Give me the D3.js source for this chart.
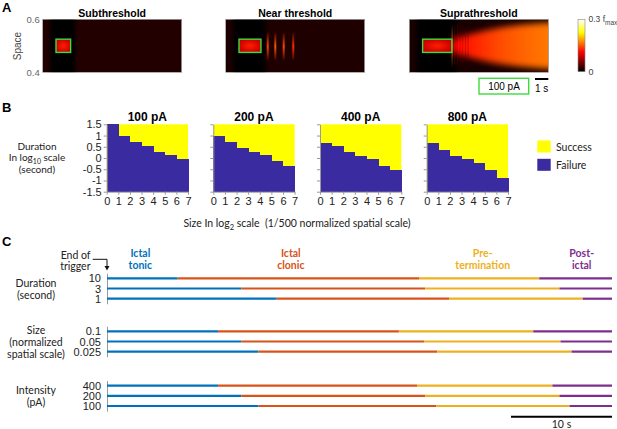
<!DOCTYPE html>
<html>
<head>
<meta charset="utf-8">
<script src="https://cdn.jsdelivr.net/npm/d3@7"></script>
<style>
  body { margin: 0; background: #fff; }
  text { font-family: "Liberation Sans", Arial, sans-serif; }
  .cal { font-family: Lato, "Open Sans", sans-serif; }
</style>
</head>
<body>
<div id="chart"></div>
<script>
// ---- panel A : activity maps ----
const heatTitles = ["Subthreshold", "Near threshold", "Suprathreshold"];
const stimStart = 1.0;                       // s
const stimDur = [1.1, 1.65, 2.2];            // s
const stimSpace = [0.475, 0.525];
const bgLevel = [0.05, 0.045, 0.035];
const nearStripeT = [3.16, 3.73, 4.36, 5.08];
const nearStripeV = [0.47, 0.5, 0.48, 0.44];
const supraStripeT = [3.22, 3.42, 3.62, 3.82, 4.02, 4.22, 4.42];
const supraStripeV = [0.62, 0.4, 0.36, 0.33, 0.3, 0.28, 0.26];
const fanT = [3.2, 3.5, 4, 5, 6, 7, 8, 9, 10.45];
const fanHalf = [0.024, 0.03, 0.037, 0.05, 0.061, 0.07, 0.077, 0.082, 0.088];
const fanV = [0.36, 0.38, 0.4, 0.43, 0.46, 0.49, 0.51, 0.53, 0.55];

// ---- panel B : success / failure ----
const currents = ["100 pA", "200 pA", "400 pA", "800 pA"];
const sizeTicks = [0, 1, 2, 3, 4, 5, 6, 7];
const durTicks = [1.5, 1, 0.5, 0, -0.5, -1, -1.5];
const fail100 = [1.5, 1.0, 0.7, 0.55, 0.25, 0.15, -0.05];
const fail200 = [1.0, 0.7, 0.43, 0.25, 0.12, -0.13, -0.36];
const fail400 = [0.68, 0.55, 0.25, 0.07, -0.06, -0.36, -0.54];
const fail800 = [0.68, 0.37, 0.07, -0.06, -0.24, -0.54, -0.88];
const failAll = [fail100, fail200, fail400, fail800];

// ---- panel C : seizure phases ----
const phases = [["Ictal", "tonic"], ["Ictal", "clonic"], ["Pre-", "termination"], ["Post-", "ictal"]];
const phaseColors = ["#0072BD", "#D95319", "#EDB120", "#7E2F8E"];
const phaseLabelT = [3.3, 18.2, 37.2, 47.0];
const totalT = 50;
const durLabels = ["10", "3", "1"];
const durBounds = [[7.0, 30.9, 42.8], [13.3, 31.5, 44.8], [16.8, 33.9, 47.1]];
const sizeLabels = ["0.1", "0.05", "0.025"];
const sizeBounds = [[11.0, 28.9, 42.2], [13.3, 31.4, 44.9], [15.0, 32.7, 46.0]];
const intLabels = ["400", "200", "100"];
const intBounds = [[11.0, 30.7, 44.1], [13.3, 31.5, 44.8], [15.0, 32.6, 45.8]];

const W = 617, H = 429;
const svg = d3.select("#chart").append("svg").attr("width", W).attr("height", H);
const defs = svg.append("defs");

const hot = d3.scaleLinear()
  .domain([0, 0.375, 0.75, 1])
  .range(["#000000", "#ff0000", "#ffff00", "#ffffff"])
  .clamp(true);

function blur(id, sd) {
  defs.append("filter").attr("id", id)
      .attr("x", "-50%").attr("y", "-50%").attr("width", "200%").attr("height", "200%")
    .append("feGaussianBlur").attr("stdDeviation", sd);
}
blur("b2", 2.2);
blur("b3", 3);
blur("b05", 0.5);

function panelLetter(t, x, y) {
  svg.append("text").attr("x", x).attr("y", y).text(t)
    .attr("font-weight", "bold").attr("font-size", 13);
}
panelLetter("A", 2, 12);
panelLetter("B", 2, 112);
panelLetter("C", 2, 246);

// ================= A =================
const heatLeft = [42.7, 225.7, 409.3];
const heatW = 139, heatTop = 19.3, heatBot = 72.3;
const hx = d3.scaleLinear().domain([0, 10.45]).range([0, heatW]);
const hy = d3.scaleLinear().domain([0.4, 0.6]).range([heatBot, heatTop]);

// stim gradient
const rg = defs.append("radialGradient").attr("id", "stimGrad");
rg.append("stop").attr("offset", "0%").attr("stop-color", hot(0.42));
rg.append("stop").attr("offset", "100%").attr("stop-color", hot(0.3));

heatTitles.forEach((title, i) => {
  const g = svg.append("g").attr("transform", `translate(${heatLeft[i]},0)`);
  const clipId = "clip" + i;
  defs.append("clipPath").attr("id", clipId)
    .append("rect").attr("x", 0).attr("y", heatTop).attr("width", heatW).attr("height", heatBot - heatTop);
  const body = g.append("g").attr("clip-path", `url(#${clipId})`);

  body.append("rect").attr("x", 0).attr("y", heatTop).attr("width", heatW).attr("height", heatBot - heatTop)
    .attr("fill", hot(bgLevel[i]));
  // darker column around the stimulus
  body.append("rect")
    .attr("x", hx(stimStart - 0.45)).attr("y", heatTop - 10)
    .attr("width", hx(stimDur[i] + 0.8)).attr("height", heatBot - heatTop + 20)
    .attr("fill", hot(0.004)).attr("filter", "url(#b2)");

  if (i === 1) {
    nearStripeT.forEach((t, k) => {
      const gid = "ns" + k;
      const lg = defs.append("linearGradient").attr("id", gid).attr("x1", 0).attr("x2", 0).attr("y1", 0).attr("y2", 1);
      lg.append("stop").attr("offset", "0%").attr("stop-color", hot(0.08));
      lg.append("stop").attr("offset", "50%").attr("stop-color", hot(nearStripeV[k]));
      lg.append("stop").attr("offset", "100%").attr("stop-color", hot(0.08));
      body.append("rect").attr("x", hx(t) - 1).attr("width", 2)
        .attr("y", hy(0.55)).attr("height", hy(0.445) - hy(0.55))
        .attr("fill", `url(#${gid})`).attr("filter", "url(#b05)");
    });
  }
  if (i === 2) {
    const fg = defs.append("linearGradient").attr("id", "fanGrad")
      .attr("gradientUnits", "userSpaceOnUse")
      .attr("x1", hx(fanT[0])).attr("x2", hx(fanT[fanT.length - 1])).attr("y1", 0).attr("y2", 0);
    const t0 = fanT[0], t1 = fanT[fanT.length - 1];
    fanT.forEach((t, k) => {
      fg.append("stop").attr("offset", (t - t0) / (t1 - t0)).attr("stop-color", hot(fanV[k]));
    });
    const pts = fanT.map((t, k) => ({ t, h: fanHalf[k] }));
    const area = d3.area().curve(d3.curveBasis)
      .x(d => hx(d.t)).y0(d => hy(0.5 - d.h)).y1(d => hy(0.5 + d.h));
    body.append("path").datum(pts.concat([{ t: 11.5, h: fanHalf[fanHalf.length - 1] }]))
      .attr("d", area).attr("fill", "url(#fanGrad)").attr("filter", "url(#b3)");
    supraStripeT.forEach((t, k) => {
      const gid = "ss" + k;
      const lg = defs.append("linearGradient").attr("id", gid).attr("x1", 0).attr("x2", 0).attr("y1", 0).attr("y2", 1);
      lg.append("stop").attr("offset", "0%").attr("stop-color", hot(0.05));
      lg.append("stop").attr("offset", "50%").attr("stop-color", hot(supraStripeV[k]));
      lg.append("stop").attr("offset", "100%").attr("stop-color", hot(0.05));
      body.append("rect").attr("x", hx(t) - 0.5).attr("width", 1)
        .attr("y", hy(0.58)).attr("height", hy(0.42) - hy(0.58))
        .attr("fill", `url(#${gid})`).attr("opacity", k === 0 ? 0.9 : 0.55);
    });
  }

  // stimulus
  body.append("rect")
    .attr("x", hx(stimStart)).attr("y", hy(stimSpace[1]))
    .attr("width", hx(stimStart + stimDur[i]) - hx(stimStart))
    .attr("height", hy(stimSpace[0]) - hy(stimSpace[1]))
    .attr("fill", "url(#stimGrad)");
  g.append("rect")
    .attr("x", hx(stimStart)).attr("y", hy(stimSpace[1]))
    .attr("width", hx(stimStart + stimDur[i]) - hx(stimStart))
    .attr("height", hy(stimSpace[0]) - hy(stimSpace[1]))
    .attr("fill", "none").attr("stroke", "#3ddc3d").attr("stroke-width", 1.4);

  g.append("rect").attr("x", 0).attr("y", heatTop).attr("width", heatW).attr("height", heatBot - heatTop)
    .attr("fill", "none").attr("stroke", "#888").attr("stroke-width", 0.6);

  g.append("text").attr("x", heatW / 2).attr("y", 17).attr("text-anchor", "middle")
    .attr("font-weight", "bold").attr("font-size", 10.5).text(title);
});

// space axis
const spaceAxis = svg.append("g").attr("transform", `translate(${heatLeft[0]},0)`)
  .call(d3.axisLeft(hy).tickValues([0.4, 0.6]).tickSize(0).tickPadding(3).tickFormat(d3.format(".1f")));
spaceAxis.select(".domain").remove();
spaceAxis.selectAll("text").attr("fill", "#666").attr("font-size", 9.5)
  .attr("font-family", "Liberation Sans, Arial, sans-serif");
svg.append("text").attr("transform", "translate(21,46) rotate(-90)")
  .attr("text-anchor", "middle").attr("font-size", 10).attr("fill", "#444").text("Space");

// colour bar
const cbLeft = 578, cbW = 7;
const cby = d3.scaleLinear().domain([0, 1]).range([71.7, 19.3]);
const cbg = defs.append("linearGradient").attr("id", "cbGrad").attr("x1", 0).attr("x2", 0).attr("y1", 1).attr("y2", 0);
d3.range(0, 1.001, 0.125).forEach(v => {
  cbg.append("stop").attr("offset", v).attr("stop-color", hot(v));
});
svg.append("rect").attr("x", cbLeft).attr("y", cby(1)).attr("width", cbW).attr("height", cby(0) - cby(1))
  .attr("fill", "url(#cbGrad)").attr("stroke", "#888").attr("stroke-width", 0.6);
const cbTop = svg.append("text").attr("x", 588.5).attr("y", cby(1) + 3).attr("font-size", 8.5).attr("fill", "#444");
cbTop.append("tspan").text("0.3 f");
cbTop.append("tspan").attr("dy", 3).attr("font-size", 6.5).text("max");
svg.append("text").attr("x", 588.5).attr("y", cby(0) + 3).attr("font-size", 9).attr("fill", "#444").text("0");

// scale bars
svg.append("rect").attr("x", 479).attr("y", 78.3).attr("width", 49.7).attr("height", 15.7)
  .attr("fill", "none").attr("stroke", "#3ddc3d").attr("stroke-width", 1.4);
svg.append("text").attr("x", 504).attr("y", 90).attr("text-anchor", "middle").attr("font-size", 10).text("100 pA");
svg.append("line").attr("x1", 535).attr("x2", 535 + hx(1) - hx(0)).attr("y1", 79).attr("y2", 79)
  .attr("stroke", "#000").attr("stroke-width", 2);
svg.append("text").attr("x", 535 + (hx(1) - hx(0)) / 2).attr("y", 92).attr("text-anchor", "middle")
  .attr("font-size", 10).text("1 s");

// ================= B =================
const bLeft = [106.7, 213.3, 320, 426.7];
const bW = 81.3, bTop = 124.3, bBot = 191.7;
const bx = d3.scaleLinear().domain([0, 7]).range([0, bW]);
const by = d3.scaleLinear().domain([-1.5, 1.5]).range([bBot - bTop, 0]);
const yellow = "#ffff00", blue = "#3a2ba0";

currents.forEach((c, i) => {
  const g = svg.append("g").attr("transform", `translate(${bLeft[i]},${bTop})`);
  g.append("rect").attr("x", 0).attr("y", 0).attr("width", bW).attr("height", by(-1.5))
    .attr("fill", yellow);
  g.selectAll(".fail").data(failAll[i]).enter().append("rect")
    .attr("class", "fail")
    .attr("x", (d, k) => bx(k))
    .attr("width", (d, k) => bx(k + 1) - bx(k) + 0.5)
    .attr("y", d => by(d))
    .attr("height", d => by(-1.5) - by(d))
    .attr("fill", blue)
    .attr("shape-rendering", "crispEdges");

  const ax = g.append("g").attr("transform", `translate(0,${by(-1.5)})`)
    .call(d3.axisBottom(bx).tickValues(sizeTicks).tickSize(3).tickSizeOuter(0).tickPadding(3)
      .tickFormat(d3.format("d")));
  const ay = g.append("g")
    .call(d3.axisLeft(by).tickValues(durTicks).tickSize(3).tickSizeOuter(0).tickPadding(2)
      .tickFormat(i === 0 ? (d => String(d)) : ""));
  [ax, ay].forEach(a => {
    a.selectAll("path,line").attr("stroke", "#999");
    a.selectAll("text").attr("fill", "#222").attr("font-size", 11)
      .attr("font-family", "Liberation Sans, Arial, sans-serif");
  });

  g.append("text").attr("x", bW / 2).attr("y", -3).attr("text-anchor", "middle")
    .attr("font-weight", "bold").attr("font-size", 12).text(c);
});

const bLab = svg.append("text").attr("class", "cal").attr("text-anchor", "middle").attr("font-size", 10).attr("fill", "#222");
bLab.append("tspan").attr("x", 37).attr("y", 149.5).text("Duration");
const l2 = bLab.append("tspan").attr("x", 37).attr("y", 161);
l2.append("tspan").text("In log");
l2.append("tspan").attr("font-size", 7).attr("dy", 2.5).text("10");
l2.append("tspan").attr("dy", -2.5).text(" scale");
bLab.append("tspan").attr("x", 37).attr("y", 173).text("(second)");

const xl = svg.append("text").attr("class", "cal").attr("x", 297).attr("y", 227)
  .attr("text-anchor", "middle").attr("font-size", 10.5).attr("fill", "#222");
xl.append("tspan").text("Size In log");
xl.append("tspan").attr("font-size", 7.5).attr("dy", 2.5).text("2");
xl.append("tspan").attr("dy", -2.5).attr("xml:space", "preserve").text(" scale  (1/500 normalized spatial scale)");

// legend
const legend = [["Success", yellow], ["Failure", blue]];
legend.forEach(([name, col], k) => {
  svg.append("rect").attr("x", 537.3).attr("y", 140.5 + k * 18.3).attr("width", 13.4).attr("height", 12)
    .attr("fill", col);
  svg.append("text").attr("class", "cal").attr("x", 556).attr("y", 151 + k * 18.3)
    .attr("font-size", 10.5).attr("fill", "#222").text(name);
});

// ================= C =================
const tx = d3.scaleLinear().domain([0, totalT]).range([107, 612]);
const groups = [
  { labels: durLabels, bounds: durBounds, title: ["Duration", "(second)"], top: 278.7 },
  { labels: sizeLabels, bounds: sizeBounds, title: ["Size", "(normalized", "spatial scale)"], top: 331.7 },
  { labels: intLabels, bounds: intBounds, title: ["Intensity", "(pA)"], top: 386 }
];
const rowGap = 10.3;

groups.forEach(gr => {
  const ry = d3.scalePoint().domain(gr.labels)
    .range([gr.top - 5.5, gr.top + 2 * rowGap + 4.5]).padding(0.5);
  const a = svg.append("g").attr("transform", `translate(${tx(0)},0)`)
    .call(d3.axisLeft(ry).tickSize(0).tickPadding(6).tickSizeOuter(0));
  a.select(".domain").attr("stroke", "#999");
  a.selectAll("text").attr("font-size", 11).attr("fill", "#222")
    .attr("font-family", "Liberation Sans, Arial, sans-serif");

  gr.labels.forEach((lab, r) => {
    const edges = [0].concat(gr.bounds[r], [totalT]);
    for (let p = 0; p < 4; p++) {
      svg.append("line")
        .attr("x1", tx(edges[p])).attr("x2", tx(edges[p + 1]))
        .attr("y1", ry(lab)).attr("y2", ry(lab))
        .attr("stroke", phaseColors[p]).attr("stroke-width", 2.2);
    }
  });

  const n = gr.title.length;
  const midY = gr.top + rowGap;
  gr.title.forEach((t, k) => {
    svg.append("text").attr("class", "cal").attr("x", 36).attr("text-anchor", "middle")
      .attr("y", midY + 4 + (k - (n - 1) / 2) * 12).attr("font-size", 10.5).attr("fill", "#222").text(t);
  });
});

// phase labels
phases.forEach((p, k) => {
  p.forEach((t, j) => {
    svg.append("text").attr("class", "cal").attr("x", tx(phaseLabelT[k]))
      .attr("y", 257 + j * 12).attr("text-anchor", "middle")
      .attr("font-size", 10.5).attr("font-weight", "bold").attr("fill", phaseColors[k]).text(t);
  });
});

// end of trigger marker
svg.append("text").attr("class", "cal").attr("x", 90.5).attr("y", 258.5).attr("text-anchor", "end")
  .attr("font-size", 10.5).attr("fill", "#222").text("End of");
svg.append("text").attr("class", "cal").attr("x", 90.5).attr("y", 270).attr("text-anchor", "end")
  .attr("font-size", 10.5).attr("fill", "#222").text("trigger");
svg.append("path").attr("d", `M92.7,259.3H${tx(0)}V267`).attr("fill", "none").attr("stroke", "#111").attr("stroke-width", 1);
svg.append("path").attr("d", `M${tx(0) - 2.5},266 L${tx(0) + 2.5},266 L${tx(0)},270.5 Z`).attr("fill", "#111");

// 10 s scale bar
svg.append("line").attr("x1", tx(totalT - 10)).attr("x2", tx(totalT)).attr("y1", 416.7).attr("y2", 416.7)
  .attr("stroke", "#000").attr("stroke-width", 2);
svg.append("text").attr("class", "cal").attr("x", (tx(totalT - 10) + tx(totalT)) / 2).attr("y", 428)
  .attr("text-anchor", "middle").attr("font-size", 10.5).attr("fill", "#222").text("10 s");
</script>
</body>
</html>
